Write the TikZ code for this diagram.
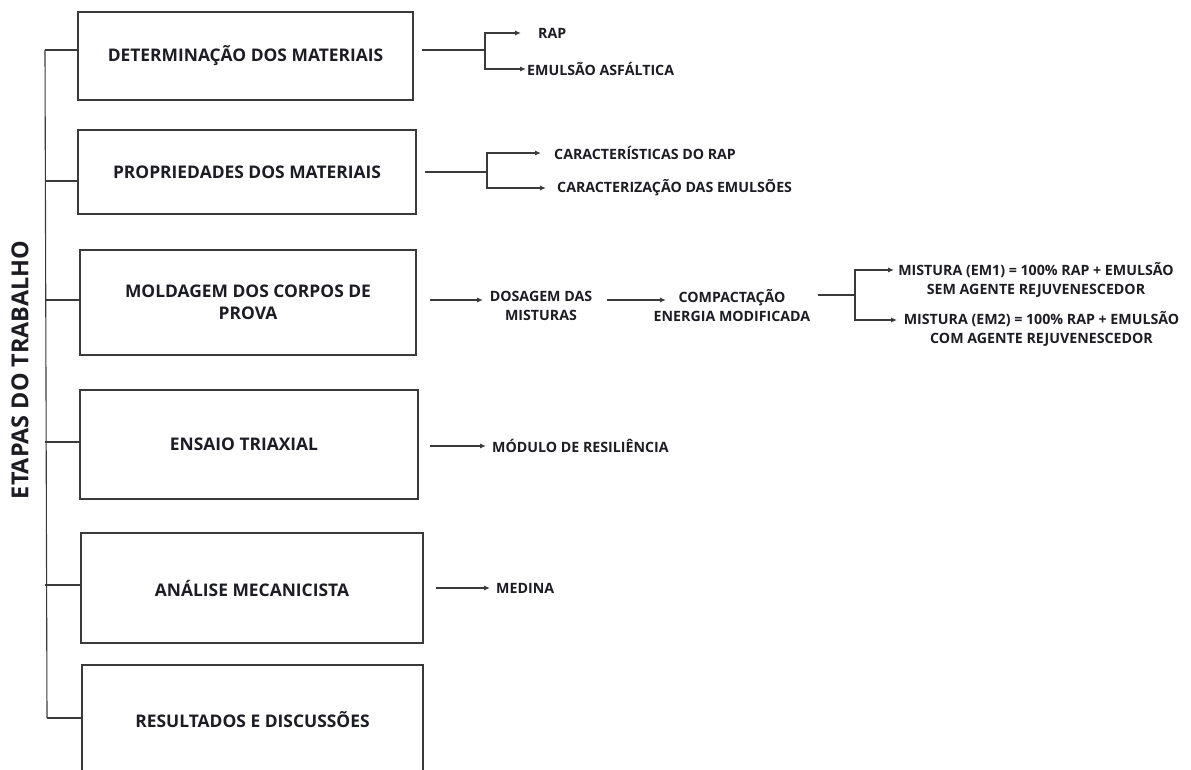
\documentclass[tikz,border=0pt]{standalone}
\usepackage{fontspec}
\setmainfont{Open Sans}[BoldFont={* Bold}]
\usetikzlibrary{arrows.meta}
\definecolor{ln}{HTML}{3A3A3A}
\definecolor{tx}{HTML}{1C1C24}
\begin{document}
\begin{tikzpicture}[x=1pt,y=-1pt,
  box/.style={draw=ln,line width=1.8pt,minimum width=#1,inner sep=0pt,font=\bfseries\fontsize{17.4}{22}\selectfont,text=tx,align=center},
  lbl/.style={font=\bfseries\fontsize{14.2}{19}\selectfont,text=tx,inner sep=0pt,align=center},
  ln/.style={draw=ln,line width=1.1pt},
  arr/.style={ln,-{Latex[length=6pt,width=5pt]}}]
\useasboundingbox (0,0) rectangle (1191,770);
% boxes
\node[box=335pt,minimum height=88pt] (b1) at (245.5,56) {DETERMINAÇÃO DOS MATERIAIS};
\node[box=338pt,minimum height=84pt] (b2) at (247,172) {PROPRIEDADES DOS MATERIAIS};
\node[box=336pt,minimum height=105pt] (b3) at (248,302.5) {MOLDAGEM DOS CORPOS DE\\PROVA};
\node[box=338pt,minimum height=109pt] (b4) at (249,444.5) {\hspace*{-10pt}ENSAIO TRIAXIAL};
\node[box=342pt,minimum height=110pt] (b5) at (252,588) {ANÁLISE MECANICISTA};
\node[box=341pt,minimum height=110pt] (b6) at (252.5,720) {RESULTADOS E DISCUSSÕES};
% title
\node[rotate=90,font=\bfseries\fontsize{23.4}{26}\selectfont,text=tx,inner sep=0pt] (title) at (20,370) {ETAPAS DO TRABALHO};
% spine
\coordinate (s1) at (45,50);
\coordinate (s2) at (45,181);
\coordinate (s3) at (45,300);
\coordinate (s4) at (45,442);
\coordinate (s5) at (45,585);
\coordinate (s6) at (47,718);
\draw[ln] (s1) -- (s6);
\draw[ln] (s1) -- (s1 -| b1.west);
\draw[ln] (s2) -- (s2 -| b2.west);
\draw[ln] (s3) -- (s3 -| b3.west);
\draw[ln] (s4) -- (s4 -| b4.west);
\draw[ln] (s5) -- (s5 -| b5.west);
\draw[ln] (s6) -- (s6 -| b6.west);
% box1 outputs
\node[lbl,anchor=west] (rap) at (538,33) {RAP};
\node[lbl,anchor=west] (emu) at (527,69) {EMULSÃO ASFÁLTICA};
\coordinate (o1) at (422,50);
\coordinate (k1) at (485,50);
\coordinate (t11) at (521,33);
\coordinate (t12) at (526,69);
\draw[ln] (o1) -- (k1);
\draw[arr] (k1) |- (t11);
\draw[arr] (k1) |- (t12);
% box2 outputs
\node[lbl,anchor=west] (car) at (554,153) {CARACTERÍSTICAS DO RAP};
\node[lbl,anchor=west] (cem) at (557,188) {CARACTERIZAÇÃO DAS EMULSÕES};
\coordinate (o2) at (425,172);
\coordinate (k2) at (487,172);
\coordinate (t21) at (541,153);
\coordinate (t22) at (546,188);
\draw[ln] (o2) -- (k2);
\draw[arr] (k2) |- (t21);
\draw[arr] (k2) |- (t22);
% box3 outputs
\node[lbl] (dos) at (541,306) {DOSAGEM DAS\\MISTURAS};
\node[lbl] (comp) at (732,306) {COMPACTAÇÃO\\ENERGIA MODIFICADA};
\node[lbl] (m1) at (1036,280) {MISTURA (EM1) = 100\% RAP + EMULSÃO\\SEM AGENTE REJUVENESCEDOR};
\node[lbl] (m2) at (1041.5,329) {MISTURA (EM2) = 100\% RAP + EMULSÃO\\COM AGENTE REJUVENESCEDOR};
\coordinate (o3) at (430,300);
\coordinate (t3a) at (483,300);
\coordinate (a3) at (607,300);
\coordinate (t3b) at (666,300);
\coordinate (o3b) at (818,295);
\coordinate (k3) at (855,295);
\coordinate (t31) at (894,270);
\coordinate (t32) at (897,320);
\draw[arr] (o3) -- (t3a);
\draw[arr] (a3) -- (t3b);
\draw[ln] (o3b) -- (k3);
\draw[arr] (k3) |- (t31);
\draw[arr] (k3) |- (t32);
% box4 / box5 outputs
\node[lbl,anchor=west] (mod) at (492,446) {MÓDULO DE RESILIÊNCIA};
\node[lbl,anchor=west] (med) at (496,588) {MEDINA};
\coordinate (o4) at (430,446);
\coordinate (t4) at (486,446);
\coordinate (o5) at (436,588);
\coordinate (t5) at (490,588);
\draw[arr] (o4) -- (t4);
\draw[arr] (o5) -- (t5);
\end{tikzpicture}
\end{document}
